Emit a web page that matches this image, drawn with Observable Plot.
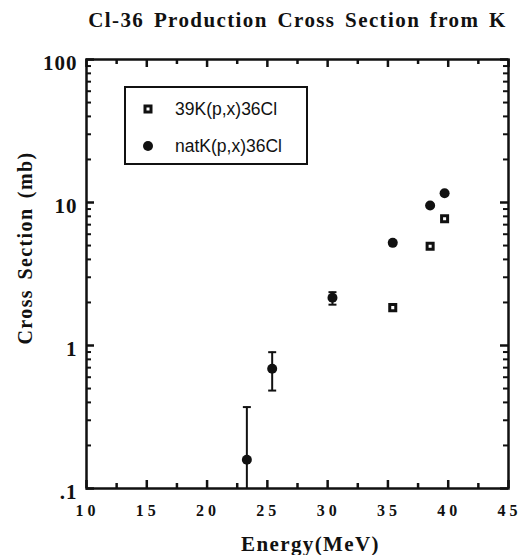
<!DOCTYPE html>
<html>
<head>
<meta charset="utf-8">
<script src="https://cdn.jsdelivr.net/npm/d3@7"></script>
<script src="https://cdn.jsdelivr.net/npm/@observablehq/plot@0.6"></script>
<style>
  html, body { margin: 0; padding: 0; background: #fff; }
  #wrap { position: relative; width: 522px; height: 555px; overflow: hidden; }
  #wrap svg { display: block; }
  g[aria-label="x-axis tick label"] text { letter-spacing: 4px; }
  g[aria-label="y-axis tick label"] text { letter-spacing: 1px; }
  .ttl { letter-spacing: 1.4px; word-spacing: 3px; }
  #legend { position: absolute; left: 124px; top: 86px; width: 184px; height: 79px; box-sizing: border-box;
            border: 2px solid #111; background: #fff; font-family: "Liberation Sans", Arial, sans-serif; font-size: 17.5px; color: #111; }
  #legend .row { position: absolute; left: 0; height: 20px; line-height: 20px; }
  #legend .sym { position: absolute; left: 22px; top: 50%; transform: translate(-50%, -50%); }
  #legend .sq { width: 3px; height: 3px; border: 3px solid #111; background: #fff; }
  #legend .ci { width: 10px; height: 10px; border-radius: 50%; background: #111; }
  #legend .lab { position: absolute; left: 49px; top: 0; white-space: nowrap; }
</style>
</head>
<body>
<div id="wrap"></div>
<script>
// ---- data ----
const seriesNames = ["39K(p,x)36Cl", "natK(p,x)36Cl"];
const energyK39 = [35.4, 38.5, 39.7];
const xsK39 = [1.84, 4.94, 7.69];
const energyNat = [23.3, 25.4, 30.4, 35.4, 38.5, 39.7];
const xsNat = [0.159, 0.687, 2.16, 5.22, 9.53, 11.6];
const errEnergy = [23.3, 25.4, 30.4];
const errLow = [0.05, 0.484, 1.93];
const errHigh = [0.371, 0.898, 2.36];
const xMajorTicks = [10, 15, 20, 25, 30, 35, 40, 45];
const xMinorTicks = [12.5, 17.5, 22.5, 27.5, 32.5, 37.5, 42.5];
const yMajorTicks = [0.1, 1, 10, 100];
const yMajorLabels = [".1", "1", "10", "100"];
const yMinorTicks = [0.2, 0.3, 0.4, 0.5, 0.6, 0.7, 0.8, 0.9,
                     2, 3, 4, 5, 6, 7, 8, 9,
                     20, 30, 40, 50, 60, 70, 80, 90];
const titleText = "Cl-36 Production Cross Section from K";
const xLabel = "Energy(MeV)";
const yLabel = "Cross Section (mb)";

// ---- tables built from the arrays ----
const k39 = energyK39.map((e, i) => ({e, v: xsK39[i]}));
const nat = energyNat.map((e, i) => ({e, v: xsNat[i]}));
const errs = errEnergy.map((e, i) => ({e, lo: errLow[i], hi: errHigh[i]}));
const caps = errs.flatMap(d => [{e: d.e, v: d.lo}, {e: d.e, v: d.hi}]).filter(d => d.v >= 0.1);

const capSymbol = {
  draw(ctx, size) {
    const w = Math.sqrt(size / Math.PI);
    ctx.moveTo(-w, 0);
    ctx.lineTo(w, 0);
  }
};

const W = 522, H = 555, ML = 86, MR = 14, MT = 59, MB = 67;
const frameW = W - ML - MR, frameH = H - MT - MB;
const serif = "'Liberation Serif', 'Times New Roman', serif";
const ink = "#111";

// inward ticks: full-frame rules trimmed by insets so only `len` px remain at one side
const xTicks = (data, side, len, sw) => Plot.ruleX(data, {x: d => d, stroke: ink, strokeWidth: sw,
  [side === "bottom" ? "insetTop" : "insetBottom"]: frameH - len});
const yTicks = (data, side, len, sw) => Plot.ruleY(data, {y: d => d, stroke: ink, strokeWidth: sw,
  [side === "left" ? "insetRight" : "insetLeft"]: frameW - len});

const chart = Plot.plot({
  width: W,
  height: H,
  marginLeft: ML,
  marginRight: MR,
  marginTop: MT,
  marginBottom: MB,
  style: {background: "#fff", color: ink, overflow: "visible"},
  x: {domain: [10, 45]},
  y: {type: "log", domain: [0.1, 100]},
  marks: [
    // tick labels
    Plot.axisX(xMajorTicks, {anchor: "bottom", tickSize: 0, tickPadding: 16, dx: 1, label: null,
      fontFamily: serif, fontWeight: "bold", fontSize: 16, fill: ink}),
    Plot.axisY(yMajorTicks, {anchor: "left", tickSize: 0, tickPadding: 9, dy: 4, label: null,
      tickFormat: d => yMajorLabels[yMajorTicks.indexOf(d)],
      fontFamily: serif, fontWeight: "bold", fontSize: 21, fill: ink}),
    // inward tick marks on all four sides
    xTicks(xMajorTicks, "bottom", 8, 2.5),
    xTicks(xMinorTicks, "bottom", 5, 2.5),
    xTicks(xMajorTicks, "top", 8, 2.5),
    xTicks(xMinorTicks, "top", 5, 2.5),
    yTicks(yMajorTicks, "left", 8, 2.5),
    yTicks(yMinorTicks, "left", 5, 2),
    yTicks(yMajorTicks, "right", 8, 2.5),
    yTicks(yMinorTicks, "right", 5, 2),
    Plot.frame({stroke: ink, strokeWidth: 2.5}),
    // error bars
    Plot.ruleX(errs, {x: "e", y1: "lo", y2: "hi", stroke: ink, strokeWidth: 2, clip: true}),
    Plot.dot(caps, {x: "e", y: "v", symbol: capSymbol, r: 4, fill: "none", stroke: ink, strokeWidth: 2}),
    // data points
    Plot.dot(nat, {x: "e", y: "v", r: 5, fill: ink, stroke: "none"}),
    Plot.dot(k39, {x: "e", y: "v", symbol: "square", r: 3.4, fill: "#fff", stroke: ink, strokeWidth: 3}),
    // titles
    Plot.text([titleText], {frameAnchor: "top", dy: -39, lineAnchor: "middle", textAnchor: "middle", className: "ttl",
      fontFamily: serif, fontWeight: "bold", fontSize: 21, fill: ink}),
    Plot.text([xLabel], {frameAnchor: "bottom", dx: 13, dy: 56, lineAnchor: "middle", textAnchor: "middle", className: "ttl",
      fontFamily: serif, fontWeight: "bold", fontSize: 21, fill: ink}),
    Plot.text([yLabel], {frameAnchor: "left", dx: -61, dy: -26, rotate: -90, lineAnchor: "middle", textAnchor: "middle", className: "ttl",
      fontFamily: serif, fontWeight: "bold", fontSize: 20, fill: ink})
  ]
});

const wrap = document.getElementById("wrap");
wrap.appendChild(chart);

// legend
const legend = document.createElement("div");
legend.id = "legend";
const rowTops = [11, 48];
const symClasses = ["sq", "ci"];
seriesNames.forEach((name, i) => {
  const row = document.createElement("div");
  row.className = "row";
  row.style.top = rowTops[i] + "px";
  row.style.width = "100%";
  const sym = document.createElement("div");
  sym.className = "sym " + symClasses[i];
  const lab = document.createElement("div");
  lab.className = "lab";
  lab.textContent = name;
  row.appendChild(sym);
  row.appendChild(lab);
  legend.appendChild(row);
});
wrap.appendChild(legend);
</script>
</body>
</html>
